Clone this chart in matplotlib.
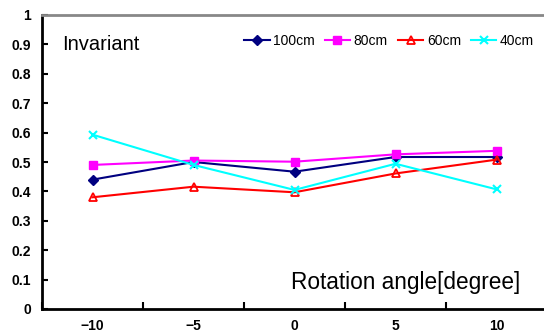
import matplotlib
matplotlib.use("Agg")
import matplotlib.pyplot as plt
from matplotlib.ticker import FixedLocator, NullFormatter, FixedFormatter

angles = [-10, -5, 0, 5, 10]
series_names = ["100cm", "80cm", "60cm", "40cm"]
v100 = [0.44, 0.50, 0.467, 0.517, 0.517]
v80 = [0.49, 0.505, 0.501, 0.526, 0.538]
v60 = [0.38, 0.416, 0.397, 0.461, 0.508]
v40 = [0.593, 0.490, 0.405, 0.494, 0.407]
yticks = [0, 0.1, 0.2, 0.3, 0.4, 0.5, 0.6, 0.7, 0.8, 0.9, 1]
ytick_labels = ["0", "0.1", "0.2", "0.3", "0.4", "0.5", "0.6", "0.7", "0.8", "0.9", "1"]

plt.rcParams['font.family'] = ['Liberation Sans', 'DejaVu Sans']

fig = plt.figure(figsize=(5.44, 3.35), dpi=100)
W, H = 544, 335
ax = fig.add_axes([42 / W, 1 - 309 / H, (544 - 42) / W, (309 - 15) / H])

styles = [
    dict(color="#000080", marker="D", markersize=5, mfc="#000080", mec="#000080"),
    dict(color="#ff00ff", marker="s", markersize=6, mfc="#ff00ff", mec="#ff00ff"),
    dict(color="#ff0000", marker="^", markersize=6, mfc="none", mec="#ff0000", mew=1.3),
    dict(color="#00ffff", marker="x", markersize=6, mec="#00ffff", mew=1.5),
]
for vals, name, st in zip([v100, v80, v60, v40], series_names, styles):
    ax.plot(angles, vals, lw=1.5, label=name, **st)

ax.set_xlim(-12.5, 12.35)
ax.set_ylim(0, 1)

ax.xaxis.set_major_locator(FixedLocator([-12.5, -7.5, -2.5, 2.5, 7.5]))
ax.xaxis.set_major_formatter(NullFormatter())
ax.xaxis.set_minor_locator(FixedLocator(angles))
ax.xaxis.set_minor_formatter(FixedFormatter(["\u221210", "\u22125", "0", "5", "10"]))
ax.tick_params(axis="x", which="major", direction="in", length=5, width=1.5)
ax.tick_params(axis="x", which="minor", length=0, pad=7, labelsize=10)
ax.set_yticks(yticks)
ax.set_yticklabels(ytick_labels)
ax.tick_params(axis="y", direction="in", length=4, width=1.5, labelsize=10, pad=8)
for lab in ax.get_xticklabels(minor=True) + ax.get_yticklabels():
    lab.set_fontweight("bold")

ax.spines["left"].set_linewidth(2)
ax.spines["bottom"].set_linewidth(2)
ax.spines["top"].set_color("#888888")
ax.spines["top"].set_linewidth(2)
ax.spines["right"].set_visible(False)

ax.text(62 / W, 1 - 44 / H, "Invariant", transform=fig.transFigure, fontsize=14.5,
        ha="left", va="center")
ax.text(520 / W, 1 - 282 / H, "Rotation angle[degree]", transform=fig.transFigure,
        fontsize=16.3, ha="right", va="center")

ax.legend(loc="upper left", bbox_to_anchor=(244 / W, 1 - 34 / H), bbox_transform=fig.transFigure,
          ncol=4, frameon=False, fontsize=10, handlelength=1.85, handletextpad=0.25,
          columnspacing=0.7, borderaxespad=0, borderpad=0)

fig.savefig("out.png", dpi=100)
